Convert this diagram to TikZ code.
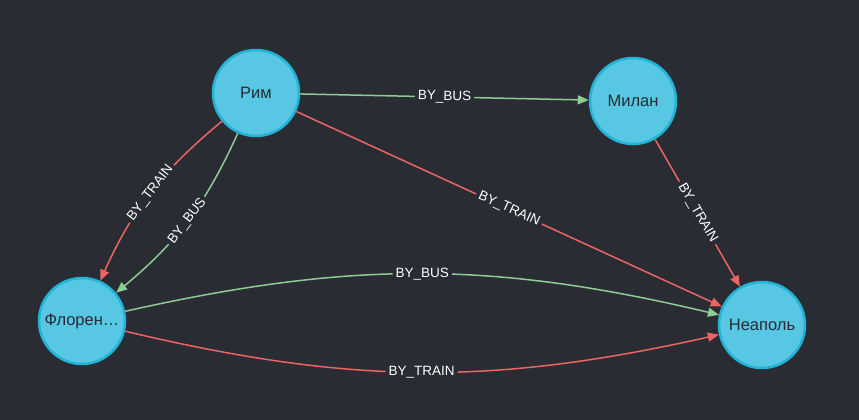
\documentclass[tikz,border=0pt]{standalone}
\usepackage{fontspec}
\setmainfont{Liberation Sans}
\usetikzlibrary{arrows.meta}
\definecolor{bg}{HTML}{292C33}
\definecolor{nodefill}{HTML}{57C7E3}
\definecolor{nodeborder}{HTML}{23B3D7}
\definecolor{redge}{HTML}{EC6464}
\definecolor{gedge}{HTML}{8DCC93}
\definecolor{ntext}{HTML}{2A2C34}
\begin{document}
\begin{tikzpicture}[x=1pt,y=-1pt,
  city/.style={circle, fill=nodefill, draw=nodeborder, line width=2.5pt, minimum size=86pt, inner sep=0pt, text=ntext, font=\fontsize{16.5}{19}\selectfont},
  rel/.style={line width=1.5pt, -{Triangle[length=11pt,width=9pt]}},
  bus/.style={rel, draw=gedge},
  train/.style={rel, draw=redge},
  lbl/.style={midway, sloped, fill=bg, text=white, inner xsep=3pt, inner ysep=1.5pt, font=\fontsize{13.5}{15}\selectfont}]
\fill[bg] (0,0) rectangle (859,420);
\useasboundingbox (0,0) rectangle (859,420);
\node[city] (rim) at (256,93) {Рим};
\node[city] (milan) at (633,101) {Милан};
\node[city] (flor) at (82,321) {Флорен…};
\node[city] (neap) at (762,325) {Неаполь};
\draw[bus] (rim) -- node[lbl]{BY\_BUS} (milan);
\draw[train] (rim) -- node[lbl]{BY\_TRAIN} (neap);
\draw[train] (milan) -- node[lbl]{BY\_TRAIN} (neap);
\draw[train] (rim) to[bend right=13] node[lbl]{BY\_TRAIN} (flor);
\draw[bus] (rim) to[bend left=13] node[lbl]{BY\_BUS} (flor);
\draw[bus] (flor) to[bend left=13] node[lbl]{BY\_BUS} (neap);
\draw[train] (flor) to[bend right=13] node[lbl]{BY\_TRAIN} (neap);
\end{tikzpicture}
\end{document}
